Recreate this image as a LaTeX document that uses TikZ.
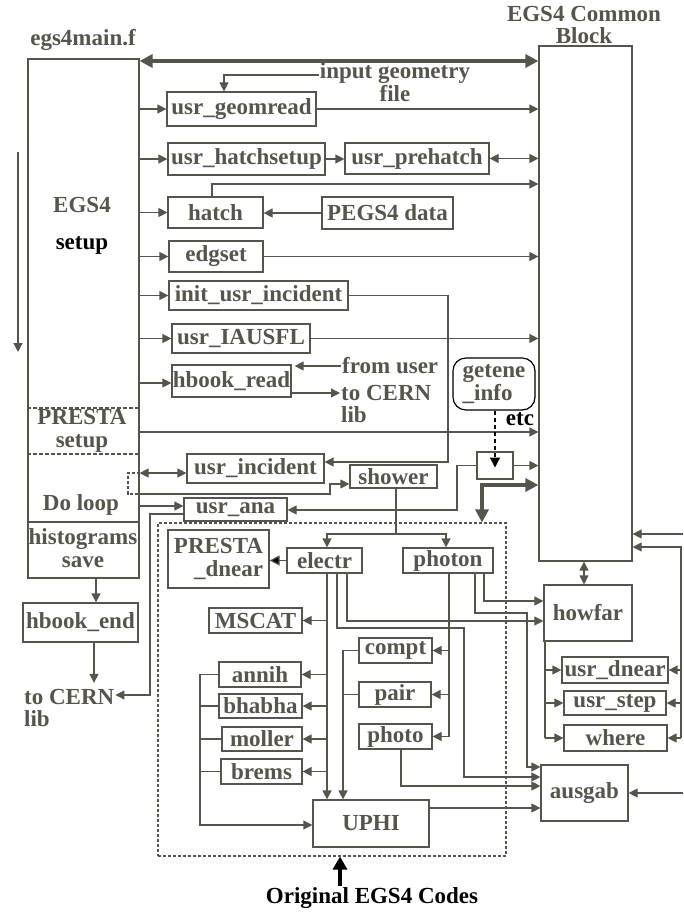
\documentclass[tikz,border=0pt]{standalone}
\usepackage{fontspec}
\setmainfont{Liberation Serif}
\usepackage{tikz}
\usetikzlibrary{arrows.meta}
\definecolor{ink}{HTML}{57544C}
\tikzset{
    every picture/.style={line join=miter},
    box/.style={draw=ink,line width=1.2pt,inner sep=0pt,text=ink,align=center},
    infobox/.style={draw=black,line width=1.2pt,rounded corners=4.5mm,inner sep=0pt,
      text=ink,align=left},
    dashbox/.style={draw=ink,line width=1.1pt,dash pattern=on 3pt off 2pt},
    lbl/.style={text=ink,inner sep=1pt,align=center},
    blacklbl/.style={text=black,inner sep=1pt,align=center},
    link/.style={draw=ink,line width=1.2pt},
    flow/.style={link,->},
    flowboth/.style={link,<->},
    bus/.style={draw=ink,line width=3.6pt,
      {Triangle[length=13pt,width=13pt]}-{Triangle[length=13pt,width=13pt]}},
    blackflow/.style={draw=ink,line width=1.2pt,-{Triangle[length=10pt,width=10pt,fill=black]}},
    dashflow/.style={draw=black,line width=1.2pt,dash pattern=on 4pt off 3pt,
      -{Triangle[length=10pt,width=10pt]}},
    bigflow/.style={draw=black,line width=4pt,-{Triangle[length=13pt,width=14pt]}}
}
\begin{document}
\begin{tikzpicture}[x=1pt,y=-1pt,>={Triangle[length=9pt,width=9pt]},
    font=\fontsize{23}{22.5}\selectfont\bfseries]
  \useasboundingbox (0,0) rectangle (683,917);
  % main program and common block
  \node[lbl] (maint) at (83,40) {egs4main.f};
  \node[box,minimum width=111pt,minimum height=519pt] (main) at (83.5,318.5) {};
  \node[lbl] (cbt) at (584,25) {EGS4 Common\\Block};
  \node[box,minimum width=93pt,minimum height=515pt] (cb) at (585.5,303.5) {};
  \node[lbl] (egs) at (82,205) {EGS4};
  \node[blacklbl] (setup) at (82,245) {setup};
  \node[lbl] (presta) at (82,431) {PRESTA\\setup};
  \node[lbl] (doloop) at (81,505) {Do loop};
  \node[lbl] (histo) at (83,548) {histograms\\save};
  \draw[link,dash pattern=on 4pt off 2pt] (main.west |- 0,408) -- (main.east |- 0,408);
  \draw[link,dash pattern=on 4pt off 2pt] (main.west |- 0,454) -- (main.east |- 0,454);
  \draw[link] (main.west |- 0,522) -- (main.east |- 0,522);
  \coordinate (flowtop) at (18,152);
  \coordinate (flowbot) at (18,352);
  \draw[flow] (flowtop) -- (flowbot);
  % setup routines
  \node[box,minimum width=149pt,minimum height=34pt] (geom) at (241.5,109) {usr\_geomread};
  \node[box,minimum width=157pt,minimum height=32pt] (hsetup) at (246.5,159) {usr\_hatchsetup};
  \node[box,minimum width=144pt,minimum height=31pt] (prehatch) at (417,158.5) {usr\_prehatch};
  \node[box,minimum width=95pt,minimum height=31pt] (hatch) at (215.5,212.5) {hatch};
  \node[box,minimum width=131pt,minimum height=32pt] (pegs) at (387.5,213) {PEGS4 data};
  \node[box,minimum width=94pt,minimum height=31pt] (edg) at (216,256.5) {edgset};
  \node[box,minimum width=179pt,minimum height=29pt] (init) at (258.5,295.5) {init\_usr\_incident};
  \node[box,minimum width=138pt,minimum height=29pt] (iau) at (241,338.5) {usr\_IAUSFL};
  \node[box,minimum width=119pt,minimum height=32pt] (hbr) at (231.5,381) {hbook\_read};
  \node[lbl] (ingeo) at (395,82) {input geometry\\file};
  \node[lbl,anchor=west] (fromuser) at (341,366) {from user};
  \node[lbl,anchor=west,align=left] (cernA) at (340,404) {to CERN\\lib};
  \draw[bus] (main.east |- 0,61) -- (cb.west |- 0,61);
  \draw[flow] (ingeo.west |- 0,75) -| ([xshift=-17.5pt]geom.north);
  \draw[flow] (main.east |- geom) -- (geom.west);
  \draw[flow] (geom.east) -- (geom.east -| cb.west);
  \draw[flow] (main.east |- hsetup) -- (hsetup.west);
  \draw[flow] (hsetup.east) -- (hsetup.east -| prehatch.west);
  \draw[flowboth] (prehatch.east) -- (prehatch.east -| cb.west);
  \draw[flow] (main.east |- hatch) -- (hatch.west);
  \draw[flow] ([xshift=-3.5pt]hatch.north) |- (cb.west |- 0,184);
  \draw[flow] (pegs.west) -- (pegs.west -| hatch.east);
  \draw[flow] (main.east |- edg) -- (edg.west);
  \draw[flow] (edg.east) -- (edg.east -| cb.west);
  \draw[flow] (main.east |- init) -- (init.west);
  \draw[flow] (main.east |- iau) -- (iau.west);
  \draw[flow] (iau.east) -- (iau.east -| cb.west);
  \draw[flow] (main.east |- 0,383) -- (hbr.west |- 0,383);
  \draw[flow] (fromuser.west) -- ([xshift=3pt]fromuser.west -| hbr.east);
  \draw[flow] (hbr.east |- 0,393) -- (cernA.west |- 0,393);
  \draw[flow] (main.east |- 0,432) -- (cb.west |- 0,432);
  % energy info
  \node[infobox,minimum width=82pt,minimum height=52pt] (gi) at (494,384) {getene\\\_info};
  \node[blacklbl] (etc) at (520,419) {etc};
  \node[box,minimum width=36pt,minimum height=27pt] (sb) at (495,465.5) {};
  \draw[dashflow] (gi.south -| sb) -- ([yshift=-2pt]sb.center);
  \draw[flow] (sb.east) -- (sb.east -| cb.west);
  % do loop
  \node[box,minimum width=137pt,minimum height=29pt] (uinc) at (255.5,468.5) {usr\_incident};
  \node[box,minimum width=87pt,minimum height=23pt] (shower) at (393.5,476.5) {shower};
  \node[box,minimum width=103pt,minimum height=23pt] (uana) at (235.5,509.5) {usr\_ana};
  \node[box,minimum width=115pt,minimum height=39pt] (hbe) at (80.5,622.5) {hbook\_end};
  \node[lbl,anchor=west,align=left] (cernB) at (23,708) {to CERN\\lib};
  \coordinate (initdn) at (448,462);
  \coordinate (sbturn) at (457,510);
  \coordinate (anadn) at (150,695);
  \draw[flow] (init.east) -| (initdn) -- (initdn -| uinc.east);
  \draw[flowboth] (main.east |- 0,473) -- (uinc.west |- 0,473);
  \draw[link,dash pattern=on 3pt off 2pt] (main.east |- 0,473) -- (128,473) -- (128,494)
    -- (main.east |- 0,494);
  \draw[flow] (main.east |- 0,494) -| (330,484) -- (shower.west |- 0,484);
  \draw[flow] (sb.west) -| (sbturn) -- (sbturn -| uana.east);
  \draw[flow] (main.east |- 0,506) -- (uana.west |- 0,506);
  \draw[flow] (uana.west |- 0,514) -| (anadn) -- (anadn -| cernB.east);
  \draw[flow] ([xshift=12.5pt]main.south) -- ([xshift=12.5pt]main.south |- hbe.north);
  \draw[flow,shorten >=5pt] ([xshift=13.5pt]hbe.south) -- ([xshift=13.5pt]hbe.south |- cernB.north);
  % original EGS4 codes
  \node[dashbox,minimum width=348pt,minimum height=333pt] (orig) at (332,689.5) {};
  \node[blacklbl] (note) at (372,898) {Original EGS4 Codes};
  \draw[bus] (orig.north -| 482,0) |- (cb.west |- 0,485);
  \draw[bigflow] (note.north -| 340,0) -- (orig.south -| 340,0);
  \node[box,minimum width=101pt,minimum height=58pt,align=right] (pdn) at (218.5,559) {PRESTA\\\_dnear};
  \node[box,minimum width=75pt,minimum height=25pt] (electr) at (324.5,560.5) {electr};
  \node[box,minimum width=90pt,minimum height=25pt] (photon) at (448,560.5) {photon};
  \node[box,minimum width=93pt,minimum height=25pt] (mscat) at (255.5,620.5) {MSCAT};
  \node[box,minimum width=82pt,minimum height=25pt] (annih) at (260,674.5) {annih};
  \node[box,minimum width=83pt,minimum height=24pt] (bhabha) at (260.5,706) {bhabha};
  \node[box,minimum width=80pt,minimum height=24pt] (moller) at (262,739) {moller};
  \node[box,minimum width=81pt,minimum height=25pt] (brems) at (261.5,771.5) {brems};
  \node[box,minimum width=73pt,minimum height=25pt] (compt) at (395.5,650.5) {compt};
  \node[box,minimum width=72pt,minimum height=25pt] (pair) at (395,694.5) {pair};
  \node[box,minimum width=73pt,minimum height=25pt] (photo) at (395.5,736.5) {photo};
  \node[box,minimum width=116pt,minimum height=47pt] (uphi) at (371,823.5) {UPHI};
  \coordinate (split) at (396,534);
  \coordinate (e1) at (327,0);
  \coordinate (e2) at (337,0);
  \coordinate (e3) at (347,0);
  \coordinate (e2turn) at (464,628);
  \coordinate (p1) at (449,0);
  \coordinate (p2) at (475,0);
  \coordinate (p3) at (484,0);
  \coordinate (p2turn) at (527,613);
  \coordinate (cp) at (343,0);
  \coordinate (collect) at (200,825);
  \draw[link] (shower.south -| split) -- (split);
  \draw[flow] (split) -| (electr.north -| e1);
  \draw[flow] (split) -| (photon.north -| 446,0);
  \draw[blackflow] (electr.west) -- (electr.west -| pdn.east);
  \draw[flow] (electr.south -| e1) -- (uphi.north -| e1);
  \foreach \n in {mscat,annih,bhabha,moller,brems}
    \draw[flow] (\n.east -| e1) -- (\n.east);
  \draw[link] (photon.south -| p1) -- (photo.east -| p1);
  \foreach \n in {compt,pair,photo}
    \draw[flow] (\n.east -| p1) -- (\n.east);
  \draw[flow] (compt.west) -| (uphi.north -| cp);
  \draw[link] (pair.west) -- (pair.west -| cp);
  \draw[flow] (annih.west) -| (collect) -- (collect -| uphi.west);
  \foreach \n in {bhabha,moller,brems}
    \draw[link] (\n.west) -- (\n.west -| collect);
  % howfar and ausgab
  \node[box,minimum width=88pt,minimum height=56pt] (howfar) at (588,613) {howfar};
  \node[box,minimum width=106pt,minimum height=26pt] (udnear) at (615,670) {usr\_dnear};
  \node[box,minimum width=102pt,minimum height=24pt] (ustep) at (615,703) {usr\_step};
  \node[box,minimum width=103pt,minimum height=26pt] (where) at (615.5,738) {where};
  \node[box,minimum width=87pt,minimum height=56pt] (ausgab) at (584.5,793) {ausgab};
  \coordinate (hl) at (545,0);
  \coordinate (hr) at (681,0);
  \coordinate (redge) at (683,0);
  \draw[flow] (electr.south -| e2) |- (e2turn) |- (ausgab.west |- 0,777);
  \draw[flow] (electr.south -| e3) |- (howfar.west |- 0,621);
  \draw[flow] (photon.south -| p3) |- (howfar.west |- 0,601);
  \draw[flow] (photon.south -| p2) |- (p2turn) |- (ausgab.west |- 0,767);
  \draw[flow] ([xshift=5.5pt]photo.south) |- (ausgab.west |- 0,786);
  \draw[flow] (uphi.east |- 0,808) -- (ausgab.west |- 0,808);
  \draw[flowboth] (cb.south -| 584,0) -- (howfar.north -| 584,0);
  \draw[link] (howfar.south -| hl) -- (where.west -| hl);
  \foreach \n in {udnear,ustep,where}
    \draw[flow] (\n.west -| hl) -- (\n.west);
  \draw[flow] (where.east -| hr) |- (cb.east |- 0,547);
  \foreach \n in {udnear,ustep,where}
    \draw[flow] (\n.east -| hr) -- (\n.east);
  \draw[flow] (redge |- 0,534) -- (cb.east |- 0,534);
  \draw[flow] (redge |- ausgab.east) -- (ausgab.east);
\end{tikzpicture}
\end{document}
